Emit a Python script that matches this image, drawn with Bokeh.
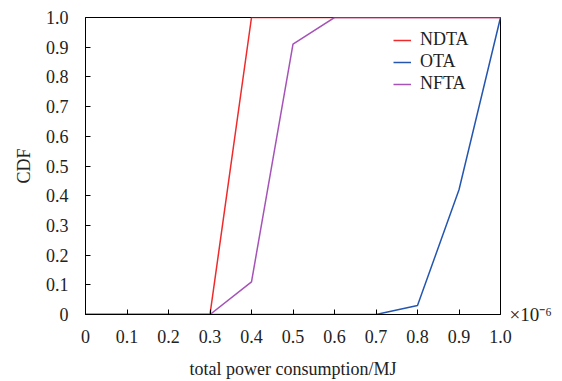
from bokeh.plotting import figure
from bokeh.models import FixedTicker, Legend, LegendItem, LinearAxis
from bokeh.embed import file_html
from bokeh.resources import INLINE

x_vals = [0, 0.1, 0.2, 0.3, 0.4, 0.5, 0.6, 0.7, 0.8, 0.9, 1.0]
ndta = [0, 0, 0, 0, 1.0, 1.0, 1.0, 1.0, 1.0, 1.0, 1.0]
ota = [0, 0, 0, 0, 0, 0, 0, 0, 0.03, 0.42, 1.0]
nfta = [0, 0, 0, 0, 0.11, 0.91, 1.0, 1.0, 1.0, 1.0, 1.0]
ticks = [0, 0.1, 0.2, 0.3, 0.4, 0.5, 0.6, 0.7, 0.8, 0.9, 1.0]
tick_labels = {0: "0", 0.1: "0.1", 0.2: "0.2", 0.3: "0.3", 0.4: "0.4", 0.5: "0.5",
               0.6: "0.6", 0.7: "0.7", 0.8: "0.8", 0.9: "0.9", 1.0: "1.0"}
scale_label = "×10⁻⁶"

FONT = "Liberation Serif"
TXT = "#222222"

p = figure(width=562, height=381, x_range=(0, 1.0), y_range=(0, 1.0),
           output_backend="svg", toolbar_location=None,
           min_border_left=85, min_border_top=17, min_border_right=62, min_border_bottom=65)
p.xgrid.visible = False
p.ygrid.visible = False
p.outline_line_color = "black"
p.outline_line_width = 1

for ax in (p.xaxis[0], p.yaxis[0]):
    ax.ticker = FixedTicker(ticks=ticks)
    ax.major_label_overrides = tick_labels
    ax.major_tick_in = 5
    ax.major_tick_out = 0
    ax.minor_tick_line_color = None
    ax.axis_line_color = "black"
    ax.major_tick_line_color = "black"
    ax.major_label_text_font = FONT
    ax.major_label_text_font_size = "18px"
    ax.major_label_text_color = TXT
    ax.axis_label_text_font = FONT
    ax.axis_label_text_font_size = "18px"
    ax.axis_label_text_font_style = "normal"
    ax.axis_label_text_color = TXT

p.xaxis.axis_label = "total power consumption/MJ"
p.yaxis.axis_label = "CDF"
p.xaxis.major_label_standoff = 15
p.yaxis.major_label_standoff = 17
p.xaxis.axis_label_standoff = 13
p.yaxis.axis_label_standoff = 9

right_ax = LinearAxis(ticker=FixedTicker(ticks=[0]), major_label_overrides={0: scale_label},
                      axis_line_color=None, major_tick_line_color=None,
                      minor_tick_line_color=None, major_label_standoff=3,
                      major_label_text_font=FONT, major_label_text_font_size="19px",
                      major_label_text_color=TXT)
p.add_layout(right_ax, "right")

r1 = p.line(x_vals, ndta, line_color="#f02a2a", line_width=1.5)
r2 = p.line(x_vals, ota, line_color="#2456b0", line_width=1.5)
r3 = p.line(x_vals, nfta, line_color="#a653b8", line_width=1.5)

legend = Legend(items=[LegendItem(label="NDTA", renderers=[r1]),
                       LegendItem(label="OTA", renderers=[r2]),
                       LegendItem(label="NFTA", renderers=[r3])],
                location=(308, 220))
legend.border_line_color = None
legend.background_fill_alpha = 0
legend.label_text_font = FONT
legend.label_text_font_size = "18px"
legend.label_text_color = TXT
legend.glyph_width = 18
legend.label_standoff = 9
legend.spacing = 1
legend.label_height = 18
legend.padding = 0
p.add_layout(legend)

open("out.html", "w").write(file_html(p, INLINE))
